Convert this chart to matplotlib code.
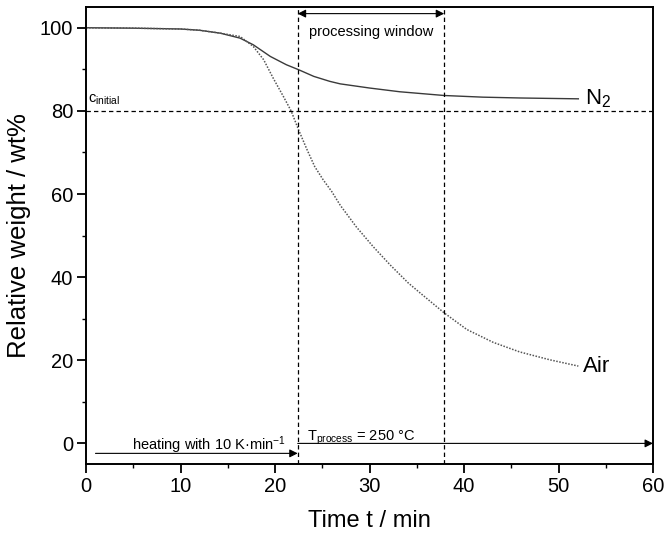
import numpy as np
import matplotlib
matplotlib.use("Agg")
import matplotlib.pyplot as plt

plt.rcParams['font.family'] = ['Liberation Sans', 'DejaVu Sans']
plt.rcParams['mathtext.default'] = 'regular'

# N2 atmosphere
t_n2 = [0, 5, 10, 12, 14.2, 16.3, 17.7, 19.5, 21.2, 22.5, 24.1, 25.8, 26.9, 30, 33.2, 37.9, 42, 46, 52.1]
w_n2 = [100, 99.9, 99.7, 99.4, 98.7, 97.5, 95.9, 93.1, 91.1, 89.9, 88.3, 87.1, 86.5, 85.5, 84.6, 83.7, 83.3, 83.1, 82.9]

# air atmosphere
t_air = [0, 5, 10, 12, 14.2, 16.3, 17.7, 18.8, 19.8, 20.9, 21.7, 22.5, 23.4, 24.2, 25.1, 26.0, 26.9,
         28.6, 30.4, 32.2, 34.1, 35.3, 37.9, 40.3, 43.1, 45.9, 49.1, 52.1]
w_air = [100, 99.9, 99.7, 99.4, 98.7, 97.9, 95.5, 92.3, 87.9, 83.4, 80.0, 75.4, 70.6, 66.6, 63.4, 60.6, 57.3,
         52.1, 47.3, 42.9, 38.6, 36.3, 31.4, 27.4, 24.3, 22.0, 20.1, 18.6]

t_start = 22.4
t_end = 37.9
c_initial = 80

fig = plt.figure(figsize=(6.67, 5.36), dpi=100)
ax = fig.add_axes([0.129, 0.134, 0.850, 0.853])

ax.plot(t_n2, w_n2, color='#3a3a3a', lw=1.0)
ax.plot(t_air, w_air, color='#555555', lw=1.1, linestyle=(0, (1, 1)))

dash = (0, (3.5, 2.5))
ax.axhline(c_initial, color='black', lw=0.9, linestyle=dash)
ax.plot([t_start, t_start], [-5, 105], color='black', lw=0.9, linestyle=dash)
ax.plot([t_end, t_end], [-5, 105], color='black', lw=0.9, linestyle=dash)

# arrows
ax.annotate('', xy=(t_end, 103.4), xytext=(t_start, 103.4),
            arrowprops=dict(arrowstyle='<|-|>', color='black', lw=0.8, mutation_scale=12,
                            shrinkA=0, shrinkB=0))
ax.text((t_start + t_end) / 2, 98.9, 'processing window', ha='center', va='center', fontsize=10.5)

ax.annotate('', xy=(t_start, -2.4), xytext=(1.0, -2.4),
            arrowprops=dict(arrowstyle='-|>', color='black', lw=0.8, mutation_scale=12,
                            shrinkA=0, shrinkB=0))
ax.text(13.0, -1.5, 'heating with 10 K·min$^{-1}$', ha='center', va='baseline', fontsize=10.5)

ax.annotate('', xy=(60, 0), xytext=(t_start, 0),
            arrowprops=dict(arrowstyle='-|>', color='black', lw=0.8, mutation_scale=12,
                            shrinkA=0, shrinkB=0))
ax.text(23.4, 0.6, 'T$_{process}$ = 250 °C', ha='left', va='baseline', fontsize=10.5)

ax.text(0.2, 82.0, 'c$_{initial}$', ha='left', va='baseline', fontsize=10.5)
ax.text(52.8, 82.9, 'N$_2$', ha='left', va='center', fontsize=16)
ax.text(52.6, 18.6, 'Air', ha='left', va='center', fontsize=16)

ax.set_xlim(0, 60)
ax.set_ylim(-5, 105)
ax.set_xticks([0, 10, 20, 30, 40, 50, 60])
ax.set_xticks(np.arange(5, 60, 10), minor=True)
ax.set_yticks([0, 20, 40, 60, 80, 100])
ax.set_yticks([10, 30, 50, 70, 90], minor=True)
ax.tick_params(which='major', direction='out', length=6.3, width=1.3, labelsize=14.5, pad=3)
ax.tick_params(which='minor', direction='out', length=3, width=1.0)
for s in ax.spines.values():
    s.set_linewidth(1.4)

ax.set_xlabel('Time t / min', fontsize=17, labelpad=10)
ax.set_ylabel('Relative weight / wt%', fontsize=18.5, labelpad=6)

fig.savefig('out.png', dpi=100)
